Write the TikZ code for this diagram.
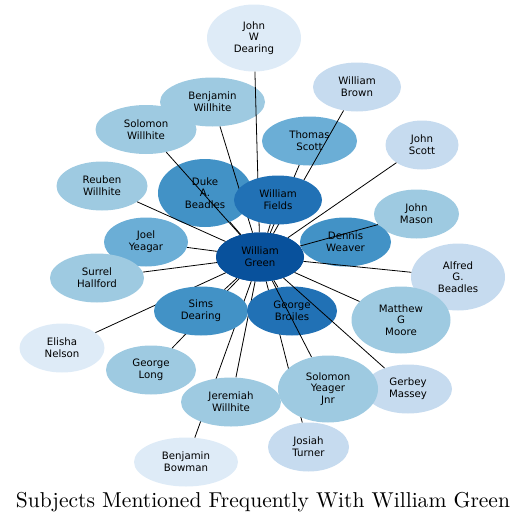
\documentclass[tikz,border=0pt]{standalone}
\usepackage{fontspec}
\usepackage{graphicx}
\usetikzlibrary{shapes.geometric}
\newfontfamily\dejavu{DejaVu Sans}
\definecolor{cA}{HTML}{DEEBF7}
\definecolor{cB}{HTML}{C6DBEF}
\definecolor{cC}{HTML}{9ECAE1}
\definecolor{cD}{HTML}{6BAED6}
\definecolor{cE}{HTML}{4292C6}
\definecolor{cF}{HTML}{2171B5}
\definecolor{cG}{HTML}{08519C}
\tikzset{
  nd/.style={ellipse, inner sep=0pt, draw=none, align=center,
    font=\dejavu\fontsize{10.2}{11.8}\selectfont, text=black},
  two/.style={minimum height=49pt},
  three/.style={minimum height=67pt},
  edge/.style={draw=black, line width=0.8pt},
}
\begin{document}
\begin{tikzpicture}[x=1pt,y=-1pt]
\useasboundingbox (0,0) rectangle (527,522);
% background nodes
\node[nd, three, fill=cA, minimum width=94pt] (jwd) at (254,38) {John\\W\\Dearing};
\node[nd, two, fill=cB, minimum width=88pt] (wb) at (357,87) {William\\Brown};
\node[nd, two, fill=cC, minimum width=101pt] (solw) at (146,129.5) {Solomon\\Willhite};
\node[nd, two, fill=cC, minimum width=105pt] (benw) at (212.5,102) {Benjamin\\Willhite};
\node[nd, two, fill=cB, minimum width=73pt] (jscott) at (422,145) {John\\Scott};
\node[nd, two, fill=cC, minimum width=91pt] (reuben) at (102,186) {Reuben\\Willhite};
\node[nd, three, fill=cE, minimum width=94pt, minimum height=68pt] (duke) at (205,193) {Duke\\A.\\Beadles};
\node[nd, two, fill=cD, minimum width=95pt] (tscott) at (309.5,141) {Thomas\\Scott};
\node[nd, two, fill=cD, minimum width=84pt] (joel) at (146,242) {Joel\\Yeagar};
\node[nd, two, fill=cC, minimum width=94pt] (surrel) at (97,278) {Surrel\\Hallford};
\node[nd, two, fill=cC, minimum width=85pt] (jmason) at (416.5,214) {John\\Mason};
\node[nd, two, fill=cE, minimum width=91pt] (dennis) at (345.5,242) {Dennis\\Weaver};
\node[nd, three, fill=cB, minimum width=94pt] (alfred) at (458,277) {Alfred\\G.\\Beadles};
\node[nd, three, fill=cC, minimum width=99pt] (matthew) at (401,320) {Matthew\\G\\Moore};
\node[nd, two, fill=cA, minimum width=85pt] (elisha) at (62,348) {Elisha\\Nelson};
\node[nd, two, fill=cC, minimum width=90pt] (glong) at (151,370) {George\\Long};
\node[nd, two, fill=cB, minimum width=88pt] (gerbey) at (408,389) {Gerbey\\Massey};
\node[nd, two, fill=cA, minimum width=104pt] (bowman) at (186,462) {Benjamin\\Bowman};
% center node (edges are clipped at its border)
\node[nd, two, fill=cG, minimum width=88pt] (green) at (260,257) {William\\Green};
% placeholders for nodes drawn later (for clipping the edges)
\path (278,200) node[nd, two, minimum width=88pt] (fields) {\phantom{W}}
      (201,311) node[nd, two, minimum width=94pt] (sims) {\phantom{S}}
      (292,311) node[nd, two, minimum width=90pt] (broiles) {\phantom{G}}
      (231,402) node[nd, two, minimum width=100pt] (jeremiah) {\phantom{J}}
      (328,389) node[nd, three, minimum width=100pt] (soly) {\phantom{S}}
      (308.5,447) node[nd, two, minimum width=81pt] (josiah) {\phantom{J}};
% edges under
\foreach \t in {jwd,wb,benw,jscott,reuben,duke,tscott,joel,surrel,dennis,alfred,matthew,elisha,glong,bowman,josiah,fields,sims,broiles,jeremiah}
  \draw[edge] (green) -- (\t);
% nodes over edges
\node[nd, two, fill=cF, minimum width=88pt] at (278,200) {William\\Fields};
\node[nd, two, fill=cE, minimum width=94pt] at (201,311) {Sims\\Dearing};
\node[nd, two, fill=cC, minimum width=100pt] at (231,402) {Jeremiah\\Willhite};
\node[nd, two, fill=cF, minimum width=90pt] at (292,311) {George\\Broiles};
% edges over
\foreach \t in {solw,jmason,soly,gerbey}
  \draw[edge] (green) -- (\t);
\node[nd, three, fill=cC, minimum width=100pt] at (328,389) {Solomon\\Yeager\\Jnr};
\node[nd, two, fill=cB, minimum width=81pt] at (308.5,447) {Josiah\\Turner};
\node[nd, two, fill=cG, minimum width=88pt] at (260,257) {William\\Green};
% title
\node[anchor=base, inner sep=0pt] (title) at (263,507)
  {\resizebox{494pt}{!}{Subjects Mentioned Frequently With William Green}};
\end{tikzpicture}
\end{document}
